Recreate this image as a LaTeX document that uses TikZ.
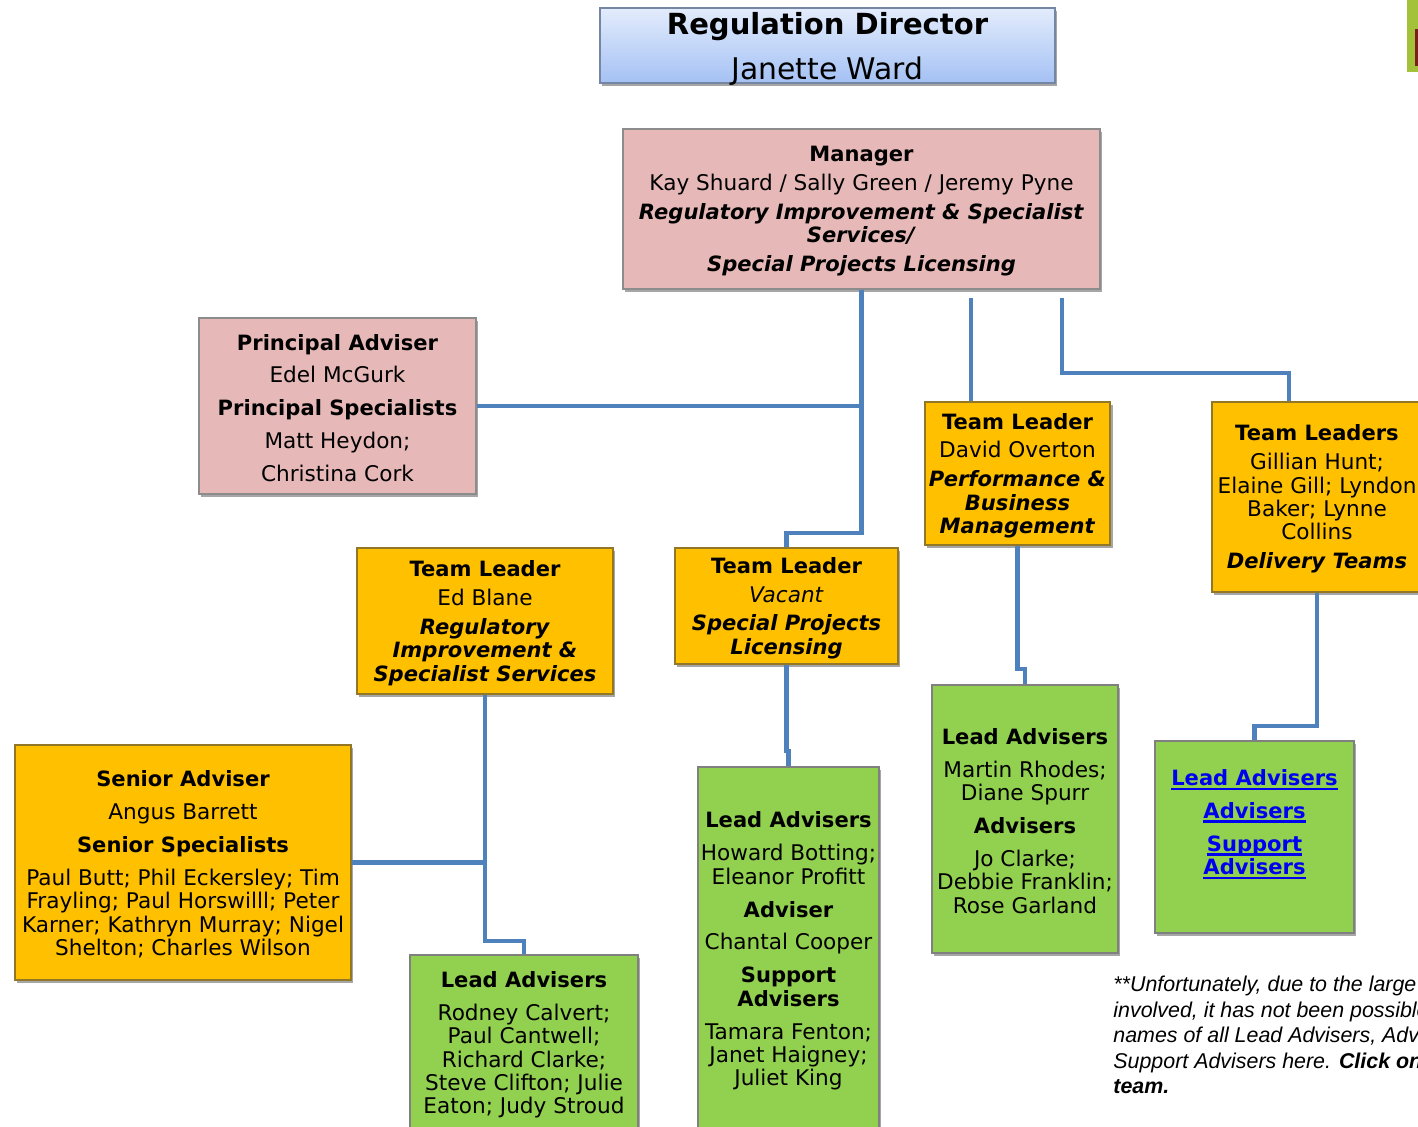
\documentclass[tikz,border=0pt]{standalone}
\usepackage{fontspec}
\setmainfont{DejaVu Sans}[BoldFeatures={Scale=0.975}, BoldItalicFeatures={Scale=0.975}]
\newfontfamily\notefont{Liberation Sans}
\usetikzlibrary{calc,shadows}

\definecolor{connblue}{HTML}{4F81BD}
\definecolor{pinkfill}{HTML}{E6B9B8}
\definecolor{orangefill}{HTML}{FFC000}
\definecolor{greenfill}{HTML}{92D050}
\definecolor{dirtop}{HTML}{E3ECFC}
\definecolor{dirbot}{HTML}{A4C1F4}
\definecolor{hyperblue}{HTML}{0000F0}
\definecolor{topgreen}{HTML}{A3C23A}
\definecolor{topred}{HTML}{7A1E1E}

\def\gapS{\\[2.8pt]}      % small gap between text groups
\def\gapL{\\[4.8pt]}      % large gap between text groups
\def\ts{\rule{0pt}{10pt}} % strut on the first line of a box
\def\bi#1{\textbf{\textit{#1}}}
\def\lnk#1{\setbox0=\hbox{\textbf{#1}}\rlap{\rule[-2.4pt]{\wd0}{1.3pt}}\box0}

\begin{document}
\begin{tikzpicture}[x=0.5pt, y=-0.5pt,
    nodes = {font=\fontsize{10.8}{11.65}\selectfont, align=center, inner sep=2pt},
    card/.style = {rectangle, line width=0.75pt,
      drop shadow={shadow xshift=1.2pt, shadow yshift=-1.5pt, opacity=.35, fill=black}},
    pinkcard/.style = {card, fill=pinkfill, draw=black!45},
    orangecard/.style = {card, fill=orangefill, draw=black!40!orangefill!70!gray},
    greencard/.style = {card, fill=greenfill, draw=black!50},
    conn/.style = {draw=connblue, line width=2.2pt, line join=miter}]

  \clip (0,0) rectangle (1418,1127);

  % corner of a picture at the top right
  \fill[topgreen] (1407,0) rectangle (1418,72);
  \fill[topred] (1415,29) rectangle (1418,66);

  % director
  \node[card, top color=dirtop, bottom color=dirbot, draw=black!30!dirbot!80!gray,
        minimum width=227.5pt, minimum height=37.5pt, inner ysep=0pt,
        font=\fontsize{14.9}{16}\selectfont] (dir) at (827.5,45.5)
    {\rule{0pt}{11pt}\textbf{Regulation Director}\\[6.5pt]\smash{Janette Ward}};

  % managers and principal
  \node[pinkcard, minimum width=238.5pt, minimum height=80pt] (mgr) at (861.5,209)
    {\ts\textbf{Manager}\gapS Kay Shuard / Sally Green / Jeremy Pyne\gapS
     \bi{Regulatory Improvement \& Specialist}\\\bi{Services/}\gapS
     \bi{Special Projects Licensing}};
  \node[pinkcard, minimum width=138.5pt, minimum height=88pt] (pa) at (337.5,406)
    {\ts\textbf{Principal Adviser}\gapL Edel McGurk\gapL \textbf{Principal Specialists}\gapL
     Matt Heydon;\gapL Christina Cork};

  % team leaders
  \node[orangecard, minimum width=128pt, minimum height=73pt] (tleb) at (485,621)
    {\ts\textbf{Team Leader}\gapS Ed Blane\gapS \bi{Regulatory}\\\bi{Improvement \&}\\
     \bi{Specialist Services}};
  \node[orangecard, minimum width=111.5pt, minimum height=58pt] (tlvac) at (786.5,606)
    {\ts\textbf{Team Leader}\gapS \textit{Vacant}\gapS \bi{Special Projects}\\\bi{Licensing}};
  \node[orangecard, minimum width=92.5pt, minimum height=71.5pt] (tldo) at (1017.5,473.5)
    {\ts\textbf{Team Leader}\gapS David Overton\gapS \bi{Performance \&}\\\bi{Business}\\
     \bi{Management}};
  \node[orangecard, minimum width=105pt, minimum height=95pt] (tlgh) at (1317,497)
    {\ts\textbf{Team Leaders}\gapS Gillian Hunt;\\Elaine Gill; Lyndon\\Baker; Lynne\\
     Collins\gapS \bi{Delivery Teams}};
  \node[orangecard, minimum width=168pt, minimum height=117.5pt] (sa) at (183,862.5)
    {\ts\textbf{Senior Adviser}\gapL Angus Barrett\gapL \textbf{Senior Specialists}\gapL
     Paul Butt; Phil Eckersley; Tim\\Frayling; Paul Horswilll; Peter\\
     Karner; Kathryn Murray; Nigel\\Shelton; Charles Wilson};

  % adviser teams
  \node[greencard, minimum width=114pt, minimum height=88pt] (lar) at (524,1043)
    {\ts\textbf{Lead Advisers}\gapL Rodney Calvert;\\Paul Cantwell;\\Richard Clarke;\\
     Steve Clifton; Julie\\Eaton; Judy Stroud};
  \node[greencard, minimum width=90.5pt, minimum height=182pt, inner xsep=1pt] (lah) at (788.5,949)
    {\ts\textbf{Lead Advisers}\gapL Howard Botting;\\Eleanor Profitt\gapL \textbf{Adviser}\gapL
     Chantal Cooper\gapL \textbf{Support}\\\textbf{Advisers}\gapL
     Tamara Fenton;\\Janet Haigney;\\Juliet King};
  \node[greencard, minimum width=93pt, minimum height=134pt] (lam) at (1025,819)
    {\ts\textbf{Lead Advisers}\gapL Martin Rhodes;\\Diane Spurr\gapL \textbf{Advisers}\gapL
     Jo Clarke;\\Debbie Franklin;\\Rose Garland};
  \node[greencard, minimum width=99.5pt, minimum height=96pt, text=hyperblue] (lal) at (1254.5,837)
    {\lnk{Lead Advisers}\gapL \lnk{Advisers}\gapL \lnk{Support}\\\lnk{Advisers}\\[3.5pt]\mbox{}};

  % note
  \node[anchor=north west, align=left, inner sep=0pt,
        font=\notefont\fontsize{10.7}{12.75}\selectfont\itshape] (note) at (1113,976)
    {**Unfortunately, due to the large\\involved, it has not been possible\\
     names of all Lead Advisers, Advisers\\Support Advisers here. \textbf{Click on}\\
     \textbf{team.}};

  % connectors
  \coordinate (j1) at (971,298);
  \coordinate (j2) at (1062,298);
  \draw[conn] (mgr.south) -- ++(0,243) -| (tlvac.north);
  \draw[conn] (mgr.south) |- (pa.east);
  \draw[conn] (j1) -- (j1 |- tldo.north);
  \draw[conn] (j2) -- ++(0,75) -| ($(tlgh.north)+(-28,0)$);
  \draw[conn] (tleb.south) |- (sa.east);
  \foreach \from/\to/\drop in {tleb/lar/246, tlvac/lah/86, tldo/lam/123, tlgh/lal/133}
    \draw[conn] (\from.south) -- ++(0,\drop) -| (\to.north);
\end{tikzpicture}
\end{document}
